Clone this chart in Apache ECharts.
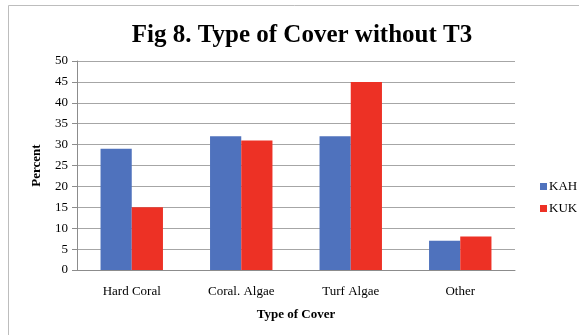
<!DOCTYPE html>
<html>
<head>
<meta charset="utf-8">
<script src="https://cdn.jsdelivr.net/npm/echarts@6/dist/echarts.min.js"></script>
<style>
  html, body { margin: 0; padding: 0; background: #fff; }
  #chart { width: 579px; height: 335px; }
</style>
</head>
<body>
<div id="chart"></div>
<script>
// Cover types and percent cover per site
const categories = ['Hard Coral', 'Coral. Algae', 'Turf Algae', 'Other'];
const kahValues = [29, 32, 32, 7];
const kukValues = [15, 31, 45, 8];
const yTicks = { min: 0, max: 50, interval: 5 };

const serif = '"Liberation Serif", "DejaVu Serif", serif';

const chart = echarts.init(document.getElementById('chart'), null, { renderer: 'canvas' });
chart.setOption({
  animation: false,
  backgroundColor: '#fff',
  title: {
    text: 'Fig 8. Type of Cover without T3',
    left: 297,
    top: 18,
    textAlign: 'center',
    textStyle: { fontFamily: serif, fontSize: 25, fontWeight: 'bold', color: '#000' }
  },
  graphic: [{
    type: 'rect',
    shape: { x: 8.5, y: 5.5, width: 600, height: 340 },
    style: { fill: 'none', stroke: '#bdbdbd', lineWidth: 1 },
    z: -1
  }],
  legend: {
    orient: 'vertical',
    left: 535,
    top: 175,
    itemWidth: 7,
    itemHeight: 7,
    itemGap: 9,
    icon: 'rect',
    textStyle: { fontFamily: serif, fontSize: 13, color: '#000', padding: [0, 0, 0, -3] },
    data: ['KAH', 'KUK']
  },
  grid: { left: 77, right: 64, top: 61, bottom: 65, containLabel: false },
  xAxis: {
    type: 'category',
    data: categories,
    name: 'Type of Cover',
    nameLocation: 'middle',
    nameGap: 38,
    nameTextStyle: { fontFamily: serif, fontSize: 13, fontWeight: 'bold', color: '#000' },
    axisLine: { lineStyle: { color: '#8c8c8c', width: 1 } },
    axisTick: { show: false },
    axisLabel: { fontFamily: serif, fontSize: 13, color: '#000', margin: 15 }
  },
  yAxis: {
    type: 'value',
    min: yTicks.min,
    max: yTicks.max,
    interval: yTicks.interval,
    name: 'Percent',
    nameLocation: 'middle',
    nameGap: 34,
    nameRotate: 90,
    nameTextStyle: { fontFamily: serif, fontSize: 13, fontWeight: 'bold', color: '#000' },
    axisLine: { show: true, lineStyle: { color: '#8c8c8c', width: 1 } },
    axisTick: { show: true, length: 5, lineStyle: { color: '#8c8c8c' } },
    axisLabel: { fontFamily: serif, fontSize: 13, color: '#000', margin: 9 },
    splitLine: { lineStyle: { color: '#a6a6a6', width: 1 } }
  },
  series: [
    {
      name: 'KAH', type: 'bar', data: kahValues,
      barGap: '0%', barCategoryGap: '43%',
      itemStyle: { color: '#4f72bd' }
    },
    {
      name: 'KUK', type: 'bar', data: kukValues,
      barGap: '0%', barCategoryGap: '43%',
      itemStyle: { color: '#ed3125' }
    }
  ]
});
</script>
</body>
</html>
